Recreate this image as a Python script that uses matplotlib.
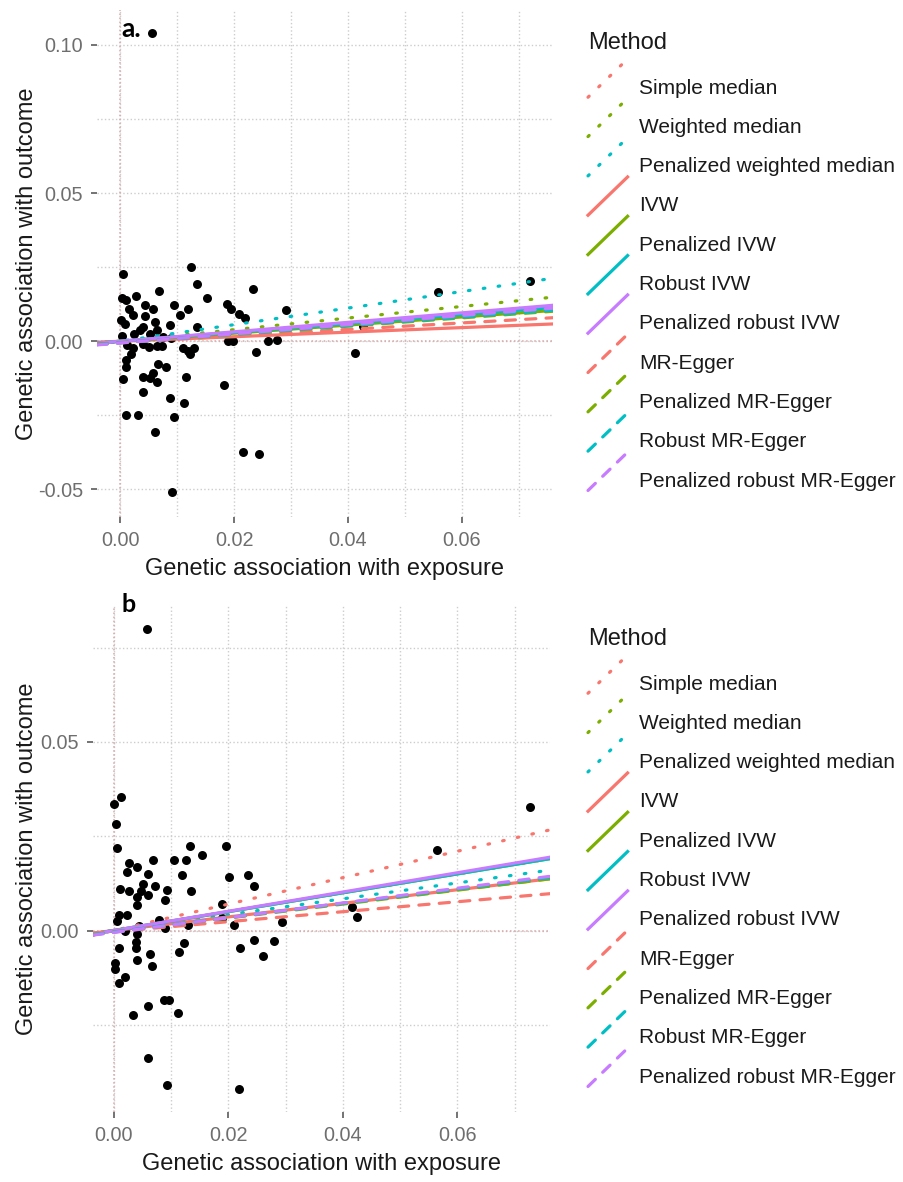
import numpy as np
import matplotlib.pyplot as plt
from matplotlib.lines import Line2D
from matplotlib.legend_handler import HandlerLine2D

plt.rcParams['font.family'] = ['Liberation Sans', 'DejaVu Sans']
plt.rcParams['axes.unicode_minus'] = False

# --- data -----------------------------------------------------------------
methods = ['Simple median', 'Weighted median', 'Penalized weighted median',
           'IVW', 'Penalized IVW', 'Robust IVW', 'Penalized robust IVW',
           'MR-Egger', 'Penalized MR-Egger', 'Robust MR-Egger',
           'Penalized robust MR-Egger']
method_colors = ['#F8766D', '#7CAE00', '#00BFC4',
                 '#F8766D', '#7CAE00', '#00BFC4', '#C77CFF',
                 '#F8766D', '#7CAE00', '#00BFC4', '#C77CFF']
method_styles = ['dotted'] * 3 + ['solid'] * 4 + ['dashed'] * 4

# panel a: SNP associations
a_x = [0.0005, 0.0125, 0.0135, 0.0068, 0.0028, 0.0004, 0.0010, 0.0152, 0.0233,
       0.0043, 0.0058, 0.0095, 0.0119, 0.0015, 0.0022, 0.0105, 0.0043, 0.0187,
       0.0194, 0.0209, 0.0219, 0.0291, 0.0001, 0.0009, 0.0061, 0.0088, 0.0135,
       0.0041, 0.0035, 0.0064, 0.0025, 0.0004, 0.0076, 0.0090, 0.0053, 0.0190,
       0.0199, 0.0260, 0.0275, 0.0012, 0.0023, 0.0041, 0.0050, 0.0064, 0.0073,
       0.0111, 0.0120, 0.0129, 0.0122, 0.0020, 0.0010, 0.0011, 0.0239, 0.0067,
       0.0081, 0.0005, 0.0040, 0.0057, 0.0053, 0.0065, 0.0116, 0.0182, 0.0040,
       0.0088, 0.0113, 0.0010, 0.0031, 0.0095, 0.0061, 0.0215, 0.0243, 0.0091,
       0.0056, 0.0558, 0.0719, 0.0412, 0.0426]
a_y = [0.0228, 0.0250, 0.0194, 0.0170, 0.0152, 0.0147, 0.0140, 0.0147, 0.0175,
       0.0122, 0.0108, 0.0122, 0.0109, 0.0108, 0.0089, 0.0089, 0.0084, 0.0125,
       0.0108, 0.0091, 0.0077, 0.0107, 0.0073, 0.0059, 0.0066, 0.0055, 0.0049,
       0.0048, 0.0037, 0.0037, 0.0024, 0.0018, 0.0015, 0.0012, 0.0026, 0.0001,
       0.0001, 0.0001, 0.0006, -0.0012, -0.0021, -0.0008, -0.0019, -0.0016,
       -0.0016, -0.0024, -0.0033, -0.0021, -0.0042, -0.0044, -0.0064, -0.0086,
       -0.0035, -0.0077, -0.0086, -0.0127, -0.0120, -0.0107, -0.0125, -0.0138,
       -0.0120, -0.0149, -0.0171, -0.0190, -0.0207, -0.0248, -0.0248, -0.0254,
       -0.0305, -0.0374, -0.0380, -0.0508, 0.1040, 0.0168, 0.0202, -0.0040,
       0.0050]
a_slope = [0.150, 0.196, 0.280, 0.077, 0.137, 0.150, 0.160,
           0.110, 0.140, 0.145, 0.155]
a_intercept = [0, 0, 0, 0, 0, 0, 0, -0.0004, -0.0005, -0.0005, -0.0006]

# panel b: SNP associations
b_x = [0.0000, 0.0012, 0.0003, 0.0006, 0.0133, 0.0195, 0.0153, 0.0069, 0.0105,
       0.0125, 0.0026, 0.0041, 0.0023, 0.0059, 0.0119, 0.0201, 0.0235, 0.0244,
       0.0010, 0.0026, 0.0051, 0.0072, 0.0093, 0.0135, 0.0048, 0.0041, 0.0060,
       0.0089, 0.0040, 0.0188, 0.0008, 0.0023, 0.0005, 0.0188, 0.0079, 0.0044,
       0.0130, 0.0210, 0.0294, 0.0090, 0.0020, 0.0041, 0.0123, 0.0038, 0.0038,
       0.0009, 0.0221, 0.0244, 0.0280, 0.0261, 0.0114, 0.0063, 0.0066, 0.0041,
       0.0002, 0.0002, 0.0020, 0.0009, 0.0087, 0.0096, 0.0059, 0.0111, 0.0033,
       0.0059, 0.0092, 0.0219, 0.0058, 0.0565, 0.0727, 0.0425, 0.0416]
b_y = [0.0336, 0.0355, 0.0282, 0.0218, 0.0223, 0.0223, 0.0200, 0.0188, 0.0187,
       0.0187, 0.0179, 0.0168, 0.0155, 0.0151, 0.0146, 0.0141, 0.0146, 0.0117,
       0.0110, 0.0106, 0.0124, 0.0119, 0.0107, 0.0105, 0.0106, 0.0089, 0.0093,
       0.0082, 0.0068, 0.0069, 0.0042, 0.0041, 0.0025, 0.0034, 0.0029, 0.0011,
       0.0014, 0.0014, 0.0023, 0.0007, -0.0002, -0.0008, -0.0033, -0.0031,
       -0.0046, -0.0046, -0.0046, -0.0024, -0.0028, -0.0068, -0.0057, -0.0063,
       -0.0094, -0.0078, -0.0086, -0.0101, -0.0123, -0.0140, -0.0185, -0.0185,
       -0.0200, -0.0218, -0.0224, -0.0337, -0.0409, -0.0419, 0.0800, 0.0214,
       0.0328, 0.0037, 0.0063]
b_slope = [0.350, 0.250, 0.210, 0.180, 0.250, 0.250, 0.255,
           0.132, 0.185, 0.190, 0.195]
b_intercept = [0, 0, 0, 0, 0, 0, 0, -0.0003, -0.0004, -0.0004, -0.0005]

LS = {'dotted': (0, (0.5, 4.2)), 'solid': '-', 'dashed': (0, (3.2, 3.2))}


class DiagonalKey(HandlerLine2D):
    """ggplot-style abline key: a diagonal line across the key box."""
    def create_artists(self, legend, orig_handle, xdescent, ydescent,
                       width, height, fontsize, trans):
        lift = 6.5  # keys sit a little higher than the label text
        line = Line2D([-xdescent, -xdescent + width],
                      [-ydescent + lift, -ydescent + height + lift])
        self.update_prop(line, orig_handle, legend)
        line.set_transform(trans)
        return [line]


def draw_panel(ax, xs, ys, slopes, intercepts, xlim, ylim, ymajor, yminor):
    ax.set_xlim(xlim)
    ax.set_ylim(ylim)
    ax.set_xticks([0.00, 0.02, 0.04, 0.06])
    ax.set_xticks([0.01, 0.03, 0.05, 0.07], minor=True)
    ax.set_yticks(ymajor)
    ax.set_yticks(yminor, minor=True)
    ax.xaxis.set_major_formatter(plt.FormatStrFormatter('%.2f'))
    ax.yaxis.set_major_formatter(plt.FormatStrFormatter('%.2f'))
    for s in ax.spines.values():
        s.set_visible(False)
    ax.grid(True, which='both', linestyle=':', color='#cdcdcd', linewidth=1.0)
    ax.set_axisbelow(True)
    ax.tick_params(which='major', length=4, width=1.1, color='#4d4d4d',
                   labelcolor='#6e6e6e', labelsize=14.3, pad=6)
    ax.tick_params(which='minor', length=0)

    ax.axhline(0, color='#d8a8a8', linestyle=':', linewidth=1.1, zorder=1)
    ax.axvline(0, color='#d8a8a8', linestyle=':', linewidth=1.1, zorder=1)

    ax.scatter(xs, ys, s=42, color='black', zorder=2, linewidths=0)

    xe = np.array(xlim)
    handles = []
    for m, c, st, b, a in zip(methods, method_colors, method_styles,
                              slopes, intercepts):
        ax.plot(xe, a + b * xe, color=c, linestyle=LS[st], linewidth=2.3,
                dash_capstyle='round', zorder=3)
        handles.append(Line2D([], [], color=c, linestyle=LS[st], linewidth=2.3,
                              dash_capstyle='round'))

    ax.set_xlabel('Genetic association with exposure', fontsize=17,
                  color='#1a1a1a', labelpad=5.5)
    ax.set_ylabel('Genetic association with outcome', fontsize=17,
                  color='#1a1a1a')
    return handles


fig = plt.figure(figsize=(9.04, 11.82), dpi=100)
W, H = 904.0, 1182.0

ax1 = fig.add_axes([97 / W, 1 - 517 / H, 456 / W, 507 / H])
h1 = draw_panel(ax1, a_x, a_y, a_slope, a_intercept,
                (-0.00404, 0.07596), (-0.0593, 0.1118),
                [-0.05, 0.00, 0.05, 0.10], [-0.025, 0.025, 0.075])
ax1.yaxis.set_label_coords(-0.129, 0.5)

ax2 = fig.add_axes([93 / W, 1 - 1112 / H, 457 / W, 506 / H])
h2 = draw_panel(ax2, b_x, b_y, b_slope, b_intercept,
                (-0.00367, 0.0762), (-0.0481, 0.0860),
                [0.00, 0.05], [-0.025, 0.025, 0.075])
ax2.yaxis.set_label_coords(-0.120, 0.5)

# legends: ggplot-like, title drawn separately so the gap can be matched
for ax, hs, top in [(ax1, h1, 0), (ax2, h2, 596)]:
    fig.text(588 / W, 1 - (43 + top) / H, 'Method', fontsize=17,
             color='#1a1a1a', va='center', ha='left')
    leg = ax.legend(hs, methods, loc='upper left',
                    bbox_to_anchor=(588 / W, 1 - (68 + top) / H),
                    bbox_transform=fig.transFigure, frameon=False,
                    fontsize=15, handlelength=1.9, handleheight=2.45,
                    labelspacing=0.05, handletextpad=0.55, borderpad=0,
                    borderaxespad=0, handler_map={Line2D: DiagonalKey()})
    for t in leg.get_texts():
        t.set_color('#1a1a1a')

fig.text(121 / W, 1 - 37 / H, 'a.', fontsize=19, fontweight='bold',
         family=['Lato', 'DejaVu Sans'], va='baseline')
fig.text(122 / W, 1 - 612 / H, 'b', fontsize=18, fontweight='bold',
         family=['Lato', 'DejaVu Sans'], va='baseline')

fig.savefig('out.png', dpi=100)
